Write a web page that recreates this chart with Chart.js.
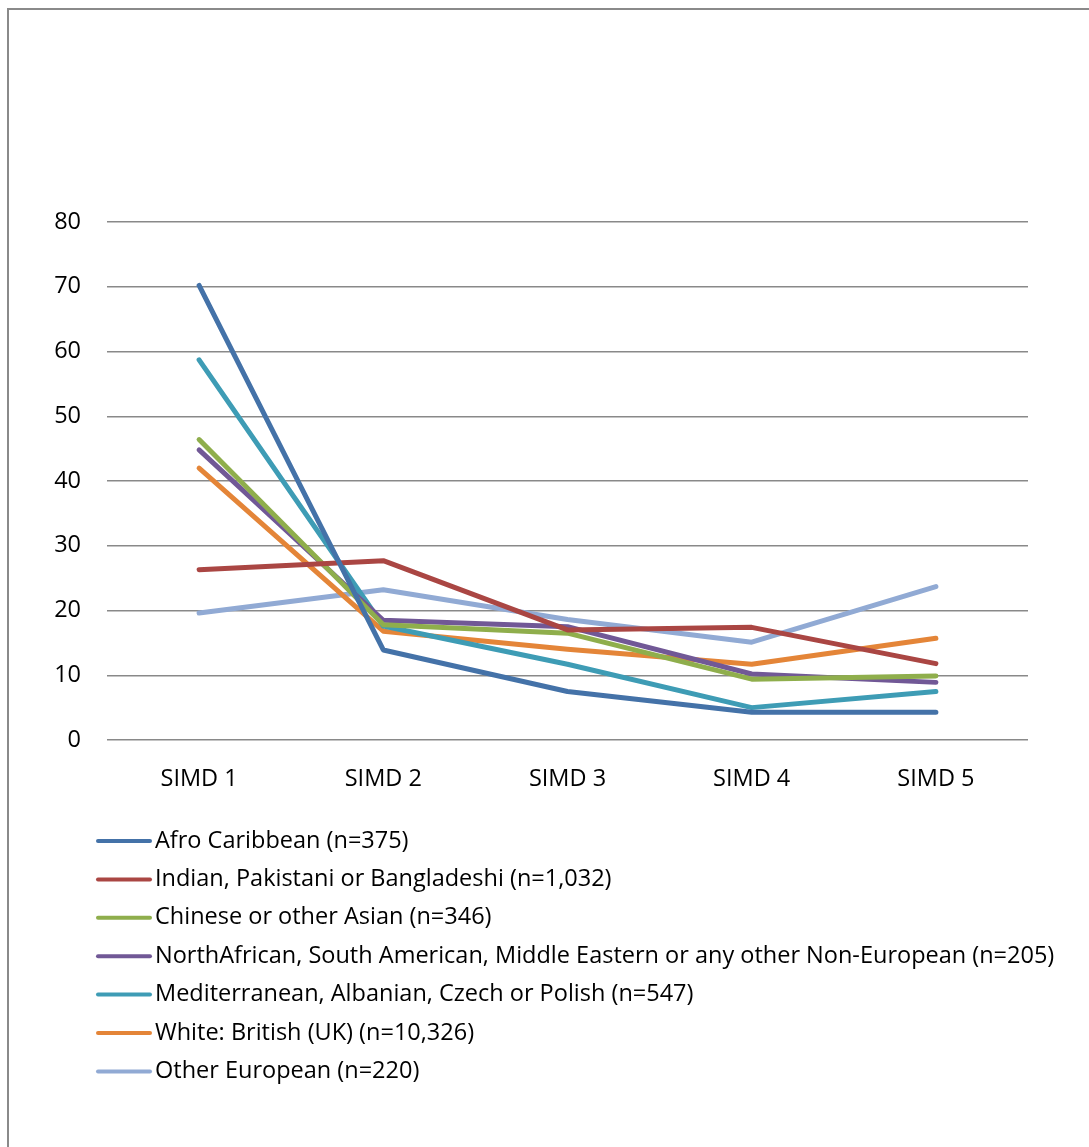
<!DOCTYPE html>
<html>
<head>
<meta charset="utf-8">
<title>SIMD by ethnic group</title>
<script src="https://cdn.jsdelivr.net/npm/chart.js@4/dist/chart.umd.min.js"></script>
<style>
  html, body { margin: 0; padding: 0; background: #ffffff; }
  #wrap { position: relative; width: 1089px; height: 1147px; overflow: hidden; }
  canvas { display: block; }
</style>
</head>
<body>
<div id="wrap"><canvas id="chart" width="1089" height="1147"></canvas></div>
<script>
// Deprivation quintiles
const categories = ['SIMD 1', 'SIMD 2', 'SIMD 3', 'SIMD 4', 'SIMD 5'];

// Percentage of each group living in each quintile
const afroCaribbean   = [70.2, 13.9, 7.5, 4.3, 4.3];
const southAsian      = [26.3, 27.7, 17.0, 17.4, 11.8];
const chineseAsian    = [46.4, 17.8, 16.5, 9.4, 9.9];
const nonEuropean     = [44.8, 18.5, 17.5, 10.2, 8.9];
const mediterranean   = [58.7, 17.6, 11.7, 5.0, 7.5];
const whiteBritish    = [42.0, 16.8, 14.0, 11.7, 15.7];
const otherEuropean   = [19.6, 23.2, 18.6, 15.1, 23.7];

const seriesLabels = [
  'Afro Caribbean (n=375)',
  'Indian, Pakistani or Bangladeshi (n=1,032)',
  'Chinese or other Asian (n=346)',
  'NorthAfrican, South American, Middle Eastern or any other Non-European (n=205)',
  'Mediterranean, Albanian, Czech or Polish (n=547)',
  'White: British (UK) (n=10,326)',
  'Other European (n=220)'
];
const seriesValues = [afroCaribbean, southAsian, chineseAsian, nonEuropean, mediterranean, whiteBritish, otherEuropean];
const seriesColors = ['#4472A8', '#AA4643', '#8FAE4C', '#715896', '#3E9CB5', '#E48538', '#91AAD4'];

// Y axis ticks
const yTicks = [0, 10, 20, 30, 40, 50, 60, 70, 80];

const FONT = '"Open Sans", Lato, sans-serif';
const FONT_SIZE = 23.5;

// Outer frame (top and left edges visible)
const framePlugin = {
  id: 'frame',
  beforeDraw(chart) {
    const ctx = chart.ctx;
    ctx.save();
    ctx.fillStyle = '#ffffff';
    ctx.fillRect(0, 0, chart.width, chart.height);
    ctx.strokeStyle = '#8a8a8a';
    ctx.lineWidth = 2;
    ctx.strokeRect(8, 9, 1300, 1300);
    ctx.restore();
  }
};

// One-entry-per-row legend under the plot
const rowLegendPlugin = {
  id: 'rowLegend',
  afterDraw(chart) {
    const ctx = chart.ctx;
    const startY = 841;
    const rowH = 38.4;
    ctx.save();
    ctx.font = FONT_SIZE + 'px ' + FONT;
    ctx.textBaseline = 'middle';
    ctx.textAlign = 'left';
    chart.data.datasets.forEach((ds, i) => {
      const y = startY + i * rowH;
      ctx.strokeStyle = ds.borderColor;
      ctx.lineWidth = 4;
      ctx.lineCap = 'round';
      ctx.beginPath();
      ctx.moveTo(98, y);
      ctx.lineTo(150, y);
      ctx.stroke();
      ctx.fillStyle = '#000000';
      ctx.fillText(ds.label, 155, y);
    });
    ctx.restore();
  }
};

const datasets = seriesLabels.map((label, i) => ({
  label: label,
  data: seriesValues[i],
  borderColor: seriesColors[i],
  backgroundColor: seriesColors[i],
  borderWidth: 5,
  pointRadius: 0,
  pointHoverRadius: 0,
  tension: 0,
  borderCapStyle: 'round',
  borderJoinStyle: 'round',
  fill: false
}));

new Chart(document.getElementById('chart'), {
  type: 'line',
  data: { labels: categories, datasets: datasets },
  options: {
    responsive: false,
    animation: false,
    devicePixelRatio: 1,
    layout: { padding: { left: 0, right: 61, top: 222, bottom: 347 } },
    plugins: {
      legend: { display: false },
      tooltip: { enabled: false }
    },
    scales: {
      x: {
        offset: true,
        grid: { display: false, drawTicks: false },
        border: { display: false },
        ticks: {
          color: '#000000',
          padding: 25,
          font: { family: FONT, size: FONT_SIZE }
        },
        afterFit(scale) { scale.height = 60; }
      },
      y: {
        min: 0,
        max: 80,
        afterBuildTicks(scale) { scale.ticks = yTicks.map(v => ({ value: v })); },
        grid: { color: '#898989', lineWidth: 1.5, drawTicks: false },
        border: { display: false },
        ticks: {
          color: '#000000',
          padding: 26,
          font: { family: FONT, size: FONT_SIZE }
        },
        afterFit(scale) { scale.width = 107; }
      }
    }
  },
  plugins: [framePlugin, rowLegendPlugin]
});
</script>
</body>
</html>
